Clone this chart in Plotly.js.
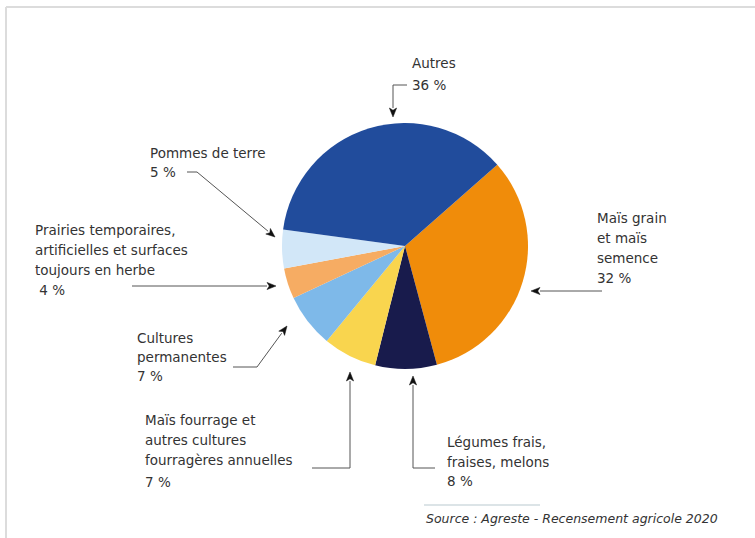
<!DOCTYPE html>
<html><head><meta charset="utf-8">
<script src="https://cdn.plot.ly/plotly-3.0.1.min.js"></script>
<style>html,body{margin:0;padding:0;background:#fff;}#chart{width:755px;height:538px;}</style>
</head><body><div id="chart"></div>
<script>
// Data
var categories = ["Maïs grain et maïs semence", "Légumes frais, fraises, melons", "Maïs fourrage et autres cultures fourragères annuelles", "Cultures permanentes", "Prairies temporaires, artificielles et surfaces toujours en herbe", "Pommes de terre", "Autres"];
var shares = [32, 8, 7, 7, 4, 5, 36];
var colors = ["#F08C0A", "#181B4C", "#F9D54E", "#7EB9E9", "#F6AC63", "#D2E7F8", "#214C9C"];
var labelLines = [
  ["Maïs grain", "et maïs", "semence", "32 %"],
  ["Légumes frais,", "fraises, melons", "8 %"],
  ["Maïs fourrage et", "autres cultures", "fourragères annuelles", "7 %"],
  ["Cultures", "permanentes", "7 %"],
  ["Prairies temporaires,", "artificielles et surfaces", "toujours en herbe", " 4 %"],
  ["Pommes de terre", "5 %"],
  ["Autres", "36 %"]
];
var sourceText = "Source : Agreste - Recensement agricole 2020";

// Layout helpers (pixel -> paper)
var W = 755, H = 538;
function px(x){return x / W;}
function py(y){return 1 - y / H;}

// label positions: left x, y of each line
var labelPos = [
  {x: 595, ys: [218, 238, 258, 278]},
  {x: 445, ys: [442, 462, 481]},
  {x: 143, ys: [420, 440, 460, 482]},
  {x: 135, ys: [338, 357, 376]},
  {x: 33, ys: [230, 250, 270, 290]},
  {x: 148, ys: [153, 172]},
  {x: 410, ys: [63, 85]}
];
// leader polylines (last point = arrow tip)
var leaders = [
  [[602, 291], [531, 291]],
  [[435, 468], [413, 468], [413, 376]],
  [[312, 468], [350, 468], [350, 372]],
  [[233, 367], [257, 367], [287, 326]],
  [[132, 286], [276, 286]],
  [[187, 172], [197, 172], [275, 237]],
  [[407, 85], [393, 85], [393, 117]]
];

var FONT = 'DejaVu Sans, sans-serif';
var annotations = [];
labelLines.forEach(function(lines, i){
  var p = labelPos[i];
  lines.forEach(function(t, j){
    annotations.push({xref:'paper', yref:'paper', x: px(p.x), y: py(p.ys[j]), xanchor:'left', yanchor:'middle',
      text: t, showarrow:false, font:{family:FONT, size:13.5, color:'#333'}});
  });
});
annotations.push({xref:'paper', yref:'paper', x: px(424), y: py(518), xanchor:'left', yanchor:'middle',
  text: '<i>' + sourceText + '</i>', showarrow:false, font:{family:FONT, size:12.5, color:'#333'}});

var shapes = [];
// frame
shapes.push({type:'line', xref:'paper', yref:'paper', x0: px(6), x1: 1, y0: py(7), y1: py(7), line:{color:'#dcdcdc', width:2}});
shapes.push({type:'line', xref:'paper', yref:'paper', x0: px(6), x1: px(6), y0: py(7), y1: 0, line:{color:'#dcdcdc', width:2}});
// source rule
shapes.push({type:'line', xref:'paper', yref:'paper', x0: px(424), x1: px(540), y0: py(505), y1: py(505), line:{color:'#b9c9cf', width:1.2}});

leaders.forEach(function(pts){
  var n = pts.length;
  var tip = pts[n-1], prev = pts[n-2];
  var dx = tip[0]-prev[0], dy = tip[1]-prev[1];
  var L = Math.sqrt(dx*dx+dy*dy); dx/=L; dy/=L;
  var hl = 9, hw = 3.6;
  var base = [tip[0]-dx*hl, tip[1]-dy*hl];
  var d = '';
  for (var k=0;k<n-1;k++){ d += (k===0?'M':'L') + px(pts[k][0]) + ',' + py(pts[k][1]); }
  d += 'L' + px(base[0]) + ',' + py(base[1]);
  shapes.push({type:'path', xref:'paper', yref:'paper', path:d, line:{color:'#555', width:1}});
  var b1 = [base[0]-dy*hw, base[1]+dx*hw], b2 = [base[0]+dy*hw, base[1]-dx*hw];
  var back = [tip[0]-dx*hl*0.75, tip[1]-dy*hl*0.75];
  var h = 'M'+px(tip[0])+','+py(tip[1])+'L'+px(b1[0])+','+py(b1[1])+'L'+px(back[0])+','+py(back[1])+'L'+px(b2[0])+','+py(b2[1])+'Z';
  shapes.push({type:'path', xref:'paper', yref:'paper', path:h, fillcolor:'#111', line:{color:'#111', width:0.5}});
});

var cx = 405, cy = 246, r = 123;
var trace = {
  type:'pie', labels: categories, values: shares, sort:false, direction:'clockwise', rotation: 48.6,
  marker:{colors: colors, line:{width:0}}, textinfo:'none', hoverinfo:'none', showlegend:false,
  domain:{x:[px(cx-r), px(cx+r)], y:[py(cy+r), py(cy-r)]}
};
var layout = {width:W, height:H, margin:{l:0,r:0,t:0,b:0}, paper_bgcolor:'#fff', plot_bgcolor:'#fff',
  showlegend:false, annotations: annotations, shapes: shapes};
Plotly.newPlot('chart', [trace], layout, {displayModeBar:false, staticPlot:true});
</script></body></html>
